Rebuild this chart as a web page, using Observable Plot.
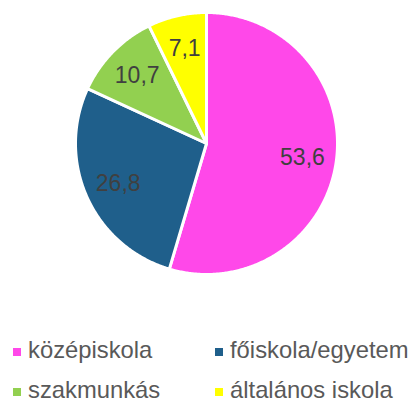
<!DOCTYPE html>
<html>
<head>
<meta charset="utf-8">
<script src="https://cdn.jsdelivr.net/npm/d3@7"></script>
<script src="https://cdn.jsdelivr.net/npm/@observablehq/plot@0.6"></script>
<style>
  body { margin: 0; background: #fff; width: 414px; height: 403px; overflow: hidden; font-family: "Liberation Sans", Arial, sans-serif; }
  #chart { position: relative; width: 414px; height: 403px; }
  .leg { position: absolute; display: flex; align-items: center; height: 30px; font-size: 23.8px; color: #595959; white-space: nowrap; }
  .leg .sw { width: 8px; height: 8px; margin-right: 7px; flex: none; }
  .leg .tx { position: relative; top: -2px; }
</style>
</head>
<body>
<div id="chart"></div>
<script>
const categories = ["középiskola", "főiskola/egyetem", "szakmunkás", "általános iskola"];
const values = [53.6, 26.8, 10.7, 7.1];
const valueLabels = ["53,6", "26,8", "10,7", "7,1"];
const colors = ["#ff48e9", "#1f5f8b", "#92d050", "#ffff00"];

const data = categories.map((c, i) => ({cat: c, value: values[i], label: valueLabels[i]}));
const arcs = d3.pie().sort(null).value(d => d.value)(data);

// polygon outline for each slice (center -> arc -> center)
const pts = [];
for (const a of arcs) {
  const n = Math.max(2, Math.ceil((a.endAngle - a.startAngle) / (Math.PI / 360)));
  pts.push({cat: a.data.cat, x: 0, y: 0});
  for (let k = 0; k <= n; k++) {
    const t = a.startAngle + (a.endAngle - a.startAngle) * k / n;
    pts.push({cat: a.data.cat, x: Math.sin(t), y: Math.cos(t)});
  }
  pts.push({cat: a.data.cat, x: 0, y: 0});
}
const labelR = 0.74;
const labelPts = arcs.map(a => {
  const m = (a.startAngle + a.endAngle) / 2;
  return {x: labelR * Math.sin(m), y: labelR * Math.cos(m), label: a.data.label};
});

const W = 414, H = 290, cx = 206, cy = 143, R = 131;
const plot = Plot.plot({
  width: W,
  height: H,
  marginLeft: cx - R,
  marginRight: W - (cx + R),
  marginTop: cy - R,
  marginBottom: H - (cy + R),
  x: {domain: [-1, 1], axis: null},
  y: {domain: [-1, 1], axis: null},
  color: {domain: categories, range: colors},
  style: {fontFamily: "'Liberation Sans', Arial, sans-serif", background: "white"},
  marks: [
    Plot.line(pts, {x: "x", y: "y", z: "cat", fill: "cat", stroke: "white", strokeWidth: 3, strokeLinejoin: "round", curve: "linear"}),
    Plot.text(labelPts, {x: "x", y: "y", text: "label", fontSize: 23, fill: "#404040"})
  ]
});
const chart = document.getElementById("chart");
chart.appendChild(plot);

// legend (HTML below the SVG)
const legPos = [[13, 337], [215, 337], [13, 377], [215, 377]];
categories.forEach((c, i) => {
  const d = document.createElement("div");
  d.className = "leg";
  d.style.left = legPos[i][0] + "px";
  d.style.top = legPos[i][1] + "px";
  d.innerHTML = `<span class="sw" style="background:${colors[i]}"></span><span class="tx">${c}</span>`;
  chart.appendChild(d);
});
</script>
</body>
</html>
